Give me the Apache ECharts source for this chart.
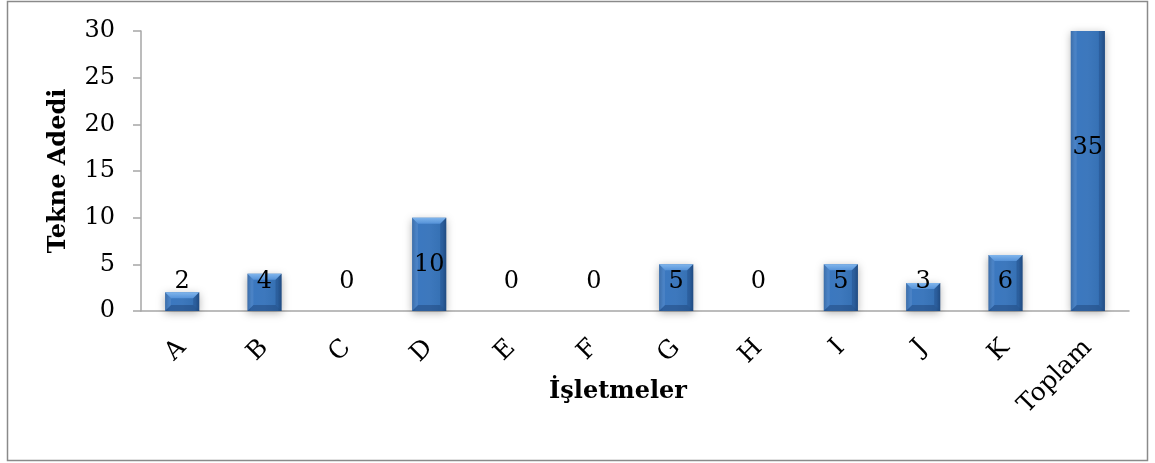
<!DOCTYPE html>
<html>
<head>
<meta charset="utf-8">
<script src="https://cdn.jsdelivr.net/npm/echarts@6/dist/echarts.min.js"></script>
<style>
  html, body { margin: 0; padding: 0; background: #fff; }
  #chart { width: 1155px; height: 463px; }
</style>
</head>
<body>
<div id="chart"></div>
<script>
// Boat counts per enterprise
const categories = ['A', 'B', 'C', 'D', 'E', 'F', 'G', 'H', 'I', 'J', 'K', 'Toplam'];
const boatCounts = [2, 4, 0, 10, 0, 0, 5, 0, 5, 3, 6, 35];
const yTicks = [0, 5, 10, 15, 20, 25, 30];

const SERIF = '"DejaVu Serif", serif';
const chart = echarts.init(document.getElementById('chart'));

// Bevelled bar: body with side shading, light top facet, darker lower facet.
function renderBar(params, api) {
  const idx = api.value(0);
  const val = api.value(1);
  const grid = params.coordSys;
  const base = api.coord([idx, 0]);
  const topPt = api.coord([idx, val]);
  const band = api.size([1, 0])[0];
  const w = band * 0.415;
  const x0 = base[0] - w / 2;
  const x1 = base[0] + w / 2;
  const y1 = base[1];
  const clipped = topPt[1] < grid.y;
  const y0 = clipped ? grid.y : topPt[1];
  const h = y1 - y0;
  const children = [];

  if (h > 0.5) {
    const b = Math.min(6, h / 3);
    const bt = clipped ? 0 : b;
    children.push({
      type: 'rect',
      shape: { x: x0, y: y0, width: w, height: h },
      style: {
        fill: new echarts.graphic.LinearGradient(0, 0, 1, 0, [
          { offset: 0, color: '#2c62a3' },
          { offset: 0.12, color: '#3b78c0' },
          { offset: 0.5, color: '#3d78bd' },
          { offset: 0.88, color: '#3570b3' },
          { offset: 1, color: '#26568f' }
        ]),
        shadowBlur: 8,
        shadowOffsetY: 2,
        shadowColor: 'rgba(0,0,0,0.3)'
      }
    });
    // top facet (absent where the bar runs past the axis maximum)
    if (!clipped) {
      children.push({
        type: 'polygon',
        shape: { points: [[x0, y0], [x1, y0], [x1 - b, y0 + b], [x0 + b, y0 + b]] },
        style: {
          fill: new echarts.graphic.LinearGradient(0, 0, 0, 1, [
            { offset: 0, color: '#80b5ec' },
            { offset: 1, color: '#5592d8' }
          ])
        }
      });
    }
    // bottom facet
    children.push({
      type: 'polygon',
      shape: { points: [[x0, y1], [x1, y1], [x1 - b, y1 - b], [x0 + b, y1 - b]] },
      style: { fill: 'rgba(20,50,95,0.35)' }
    });
    // right facet
    children.push({
      type: 'polygon',
      shape: { points: [[x1, y0], [x1, y1], [x1 - b, y1 - b], [x1 - b, y0 + bt]] },
      style: { fill: 'rgba(15,45,90,0.25)' }
    });
    // left facet
    children.push({
      type: 'polygon',
      shape: { points: [[x0, y0], [x0, y1], [x0 + b, y1 - b], [x0 + b, y0 + bt]] },
      style: { fill: 'rgba(255,255,255,0.08)' }
    });
  }

  // value label: centred on the full bar, kept clear of the axis for short bars
  const mid = api.coord([idx, val / 2]);
  const ly = Math.min(mid[1], y1 - 29);
  children.push({
    type: 'text',
    style: {
      text: String(val),
      x: base[0],
      y: ly,
      align: 'center',
      verticalAlign: 'middle',
      font: '24px ' + SERIF,
      fill: '#000'
    }
  });

  return { type: 'group', children: children };
}

chart.setOption({
  animation: false,
  backgroundColor: '#fff',
  grid: { left: 141, right: 26, top: 31, bottom: 152 },
  graphic: [{
    type: 'rect',
    shape: { x: 7.5, y: 1.5, width: 1140, height: 459 },
    style: { fill: 'none', stroke: '#8a8a8a', lineWidth: 1.5 },
    silent: true
  }],
  xAxis: {
    type: 'category',
    data: categories,
    name: 'İşletmeler',
    nameLocation: 'middle',
    nameGap: 69,
    nameMoveOverlap: false,
    nameTextStyle: {
      fontFamily: SERIF, fontWeight: 'bold', fontSize: 24, color: '#000',
      padding: [0, 34, 0, 0]
    },
    axisLine: { lineStyle: { color: '#a6a6a6', width: 1.5 } },
    axisTick: { show: false },
    axisLabel: {
      rotate: 45,
      margin: 33,
      fontFamily: SERIF,
      fontSize: 25,
      color: '#000'
    }
  },
  yAxis: {
    type: 'value',
    min: yTicks[0],
    max: yTicks[yTicks.length - 1],
    interval: yTicks[1] - yTicks[0],
    name: 'Tekne Adedi',
    nameLocation: 'middle',
    nameRotate: 90,
    nameGap: 70,
    nameTextStyle: { fontFamily: SERIF, fontWeight: 'bold', fontSize: 24, color: '#000' },
    axisLine: { show: true, lineStyle: { color: '#a6a6a6', width: 1.5 } },
    axisTick: { show: true, length: 8, lineStyle: { color: '#a6a6a6', width: 1.5 } },
    splitLine: { show: false },
    axisLabel: { margin: 26, fontFamily: SERIF, fontSize: 24, color: '#000' }
  },
  series: [{
    type: 'custom',
    renderItem: renderBar,
    clip: false,
    data: boatCounts.map((v, i) => [i, v])
  }]
});
</script>
</body>
</html>
